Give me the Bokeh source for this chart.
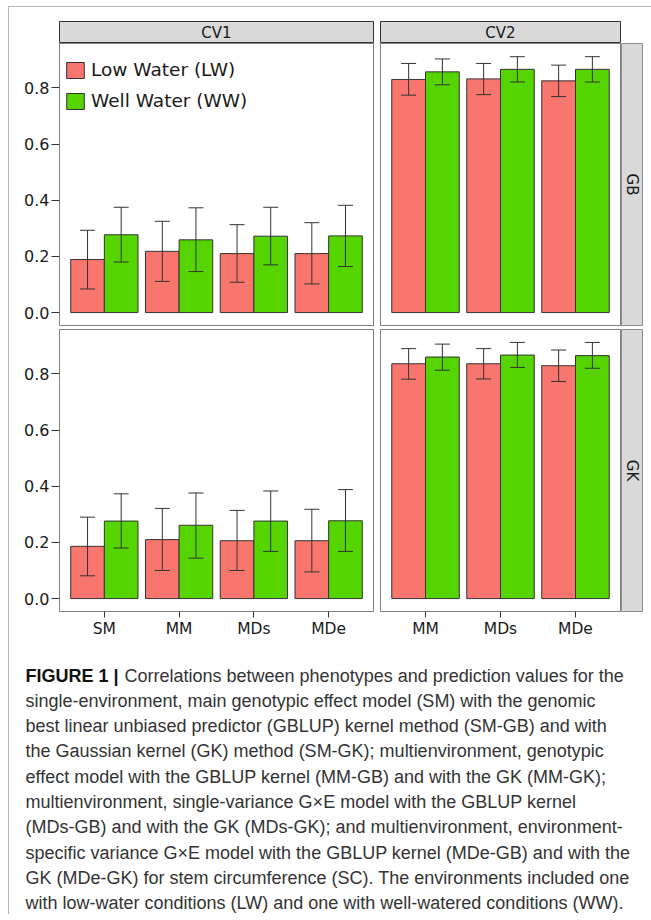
import math
from bokeh.plotting import figure
from bokeh.layouts import row, column, Spacer
from bokeh.models import (FactorRange, Range1d, ColumnDataSource, FixedTicker,
                          NumeralTickFormatter, Legend, LegendItem)
from bokeh.transform import dodge
from bokeh.core.properties import value
from bokeh.embed import file_html
from bokeh.resources import INLINE

# ---------------- data ----------------
cv1_models = ["SM", "MM", "MDs", "MDe"]
cv2_models = ["MM", "MDs", "MDe"]

# GB kernel, CV1
gb_cv1_lw = [0.189, 0.218, 0.210, 0.210]
gb_cv1_lw_lo = [0.084, 0.111, 0.108, 0.102]
gb_cv1_lw_hi = [0.293, 0.325, 0.313, 0.320]
gb_cv1_ww = [0.277, 0.259, 0.272, 0.273]
gb_cv1_ww_lo = [0.180, 0.146, 0.170, 0.164]
gb_cv1_ww_hi = [0.375, 0.373, 0.375, 0.382]
# GB kernel, CV2
gb_cv2_lw = [0.830, 0.832, 0.825]
gb_cv2_lw_lo = [0.774, 0.776, 0.769]
gb_cv2_lw_hi = [0.887, 0.887, 0.881]
gb_cv2_ww = [0.857, 0.866, 0.866]
gb_cv2_ww_lo = [0.811, 0.821, 0.821]
gb_cv2_ww_hi = [0.903, 0.911, 0.911]
# GK kernel, CV1
gk_cv1_lw = [0.186, 0.210, 0.206, 0.206]
gk_cv1_lw_lo = [0.081, 0.100, 0.100, 0.095]
gk_cv1_lw_hi = [0.290, 0.321, 0.314, 0.318]
gk_cv1_ww = [0.276, 0.261, 0.276, 0.277]
gk_cv1_ww_lo = [0.180, 0.144, 0.168, 0.168]
gk_cv1_ww_hi = [0.373, 0.376, 0.383, 0.388]
# GK kernel, CV2
gk_cv2_lw = [0.836, 0.836, 0.829]
gk_cv2_lw_lo = [0.781, 0.782, 0.773]
gk_cv2_lw_hi = [0.890, 0.890, 0.885]
gk_cv2_ww = [0.860, 0.867, 0.865]
gk_cv2_ww_lo = [0.813, 0.823, 0.820]
gk_cv2_ww_hi = [0.906, 0.912, 0.912]

y_ticks = [0.0, 0.2, 0.4, 0.6, 0.8]
series_labels = ["Low Water (LW)", "Well Water (WW)"]
col_labels = ["CV1", "CV2"]
row_labels = ["GB", "GK"]

caption_bold = "FIGURE 1 |"
caption_lines = [
    "Correlations between phenotypes and prediction values for the",
    "single-environment, main genotypic effect model (SM) with the genomic",
    "best linear unbiased predictor (GBLUP) kernel method (SM-GB) and with",
    "the Gaussian kernel (GK) method (SM-GK); multienvironment, genotypic",
    "effect model with the GBLUP kernel (MM-GB) and with the GK (MM-GK);",
    "multienvironment, single-variance G\u00d7E model with the GBLUP kernel",
    "(MDs-GB) and with the GK (MDs-GK); and multienvironment, environment-",
    "specific variance G\u00d7E model with the GBLUP kernel (MDe-GB) and with the",
    "GK (MDe-GK) for stem circumference (SC). The environments included one",
    "with low-water conditions (LW) and one with well-watered conditions (WW).",
]

# ---------------- style ----------------
LW_COLOR = "#F8766D"
WW_COLOR = "#55D400"
BAR_LINE = "#333333"
ERR_COLOR = "#333333"
PANEL_LINE = "#7f7f7f"
STRIP_FILL = "#D9D9D9"
TEXT_COLOR = "#1a1a1a"
AX_FONT = "DejaVu Sans"
Y0, Y1 = -0.046, 0.958
BW = 0.45   # single bar width
CAP = 0.1   # half cap width


def panel(models, lw, lw_lo, lw_hi, ww, ww_lo, ww_hi, width, height,
          left, right, top, bottom, yaxis, xaxis):
    p = figure(width=width, height=height,
               x_range=FactorRange(*models, range_padding=0.1,
                                   range_padding_units="absolute"),
               y_range=Range1d(Y0, Y1), output_backend="svg",
               toolbar_location=None, tools="",
               min_border_left=left, min_border_right=right,
               min_border_top=top, min_border_bottom=bottom,
               x_axis_location="below" if xaxis else None,
               y_axis_location="left" if yaxis else None,
               outline_line_color=PANEL_LINE, outline_line_width=1,
               background_fill_color="white", border_fill_color="white")
    p.grid.visible = False
    src = ColumnDataSource(dict(model=models, lw=lw, lw_lo=lw_lo, lw_hi=lw_hi,
                                ww=ww, ww_lo=ww_lo, ww_hi=ww_hi))
    bars = []
    for key, off, col in (("lw", -BW / 2, LW_COLOR), ("ww", BW / 2, WW_COLOR)):
        r = p.vbar(x=dodge("model", off, range=p.x_range), top=key, bottom=0,
                   width=BW, source=src, fill_color=col, line_color=BAR_LINE,
                   line_width=1)
        bars.append(r)
        p.segment(x0=dodge("model", off, range=p.x_range), y0=key + "_lo",
                  x1=dodge("model", off, range=p.x_range), y1=key + "_hi",
                  source=src, line_color=ERR_COLOR, line_width=1)
        for end in ("_lo", "_hi"):
            p.segment(x0=dodge("model", off - CAP, range=p.x_range), y0=key + end,
                      x1=dodge("model", off + CAP, range=p.x_range), y1=key + end,
                      source=src, line_color=ERR_COLOR, line_width=1)
    if yaxis:
        ax = p.yaxis[0]
        ax.ticker = FixedTicker(ticks=y_ticks)
        ax.formatter = NumeralTickFormatter(format="0.0")
        ax.axis_line_color = None
        ax.major_tick_in = 0
        ax.major_tick_out = 8
        ax.minor_tick_line_color = None
        ax.major_tick_line_color = "#333333"
        ax.major_label_standoff = 2
        ax.major_label_text_font = AX_FONT
        ax.major_label_text_font_size = "16px"
        ax.major_label_text_color = TEXT_COLOR
    if xaxis:
        ax = p.xaxis[0]
        ax.axis_line_color = None
        ax.major_tick_in = 0
        ax.major_tick_out = 6
        ax.minor_tick_line_color = None
        ax.major_tick_line_color = "#333333"
        ax.major_label_standoff = 2
        ax.major_label_text_font = AX_FONT
        ax.major_label_text_font_size = "15.5px"
        ax.major_label_text_color = TEXT_COLOR
    return p, bars


def strip(label, width, height, left, right, top, bottom, angle=0.0, line="#333333"):
    s = figure(width=width, height=height, x_range=Range1d(0, 1),
               y_range=Range1d(0, 1), output_backend="svg",
               toolbar_location=None, tools="",
               min_border_left=left, min_border_right=right,
               min_border_top=top, min_border_bottom=bottom,
               x_axis_location=None, y_axis_location=None,
               background_fill_color=STRIP_FILL, border_fill_color="white",
               outline_line_color=line, outline_line_width=1)
    s.grid.visible = False
    s.text(x=[0.5], y=[0.5], text=[label], angle=angle,
           text_align="center", text_baseline="middle",
           text_font=value(AX_FONT), text_font_size="15px",
           text_color=TEXT_COLOR)
    return s


# ---------------- panels ----------------
pA, barsA = panel(cv1_models, gb_cv1_lw, gb_cv1_lw_lo, gb_cv1_lw_hi,
                  gb_cv1_ww, gb_cv1_ww_lo, gb_cv1_ww_hi,
                  365, 283, 50, 1, 0, 1, True, False)
pB, _ = panel(cv2_models, gb_cv2_lw, gb_cv2_lw_lo, gb_cv2_lw_hi,
              gb_cv2_ww, gb_cv2_ww_lo, gb_cv2_ww_hi,
              242, 283, 1, 1, 0, 1, False, False)
pC, _ = panel(cv1_models, gk_cv1_lw, gk_cv1_lw_lo, gk_cv1_lw_hi,
              gk_cv1_ww, gk_cv1_ww_lo, gk_cv1_ww_hi,
              365, 323, 50, 1, 1, 40, True, True)
pD, _ = panel(cv2_models, gk_cv2_lw, gk_cv2_lw_lo, gk_cv2_lw_hi,
              gk_cv2_ww, gk_cv2_ww_lo, gk_cv2_ww_hi,
              242, 323, 1, 1, 1, 40, False, True)

# legend inside top-left panel
legend = Legend(items=[LegendItem(label=series_labels[0], renderers=[barsA[0]]),
                       LegendItem(label=series_labels[1], renderers=[barsA[1]])],
                location=(5, 214), orientation="vertical",
                glyph_width=22, glyph_height=20, label_height=20,
                label_standoff=5, spacing=10, padding=0, margin=0,
                border_line_color=None, background_fill_alpha=0,
                label_text_font=AX_FONT, label_text_font_size="18.5px",
                label_text_color=TEXT_COLOR)
pA.add_layout(legend)

# strips
sCV1 = strip(col_labels[0], 316, 23, 1, 1, 1, 0)
sCV2 = strip(col_labels[1], 242, 23, 1, 1, 1, 0)
sGB = strip(row_labels[0], 22, 283, 0, 1, 0, 1, angle=-math.pi / 2, line="#8c8c8c")
sGK = strip(row_labels[1], 22, 323, 0, 1, 1, 40, angle=-math.pi / 2, line="#8c8c8c")

# caption
CW, CH = 634, 266
cap = figure(width=CW, height=CH, x_range=Range1d(0, CW), y_range=Range1d(CH, 0),
             output_backend="svg", toolbar_location=None, tools="",
             min_border=0, x_axis_location=None, y_axis_location=None,
             outline_line_color=None, background_fill_color="white",
             border_fill_color="white")
cap.grid.visible = False
LINE_H = 25.3
base_y = [24 + LINE_H * i for i in range(len(caption_lines))]
x_start = [115] + [16] * (len(caption_lines) - 1)
cap.text(x=[16], y=[base_y[0]], text=[caption_bold], text_baseline="alphabetic",
         text_font=value("Liberation Sans"), text_font_style="bold",
         text_font_size="18px", text_color="#111111")
cap.text(x=x_start, y=base_y, text=caption_lines, text_baseline="alphabetic",
         text_font=value("Liberation Sans"), text_font_size="18px",
         text_color="#333333")

# ---------------- layout ----------------
strip_row = row(Spacer(width=49, height=23), sCV1, Spacer(width=5, height=23), sCV2)
row1 = row(pA, Spacer(width=5, height=283), pB, sGB)
row2 = row(pC, Spacer(width=5, height=323), pD, sGK)
inner = column(Spacer(width=634, height=13), strip_row, row1,
               Spacer(width=634, height=2), row2, cap)
framed = column(
    Spacer(width=643, height=1, styles={"background-color": "#b5b5b5"}),
    row(Spacer(width=1, height=907, styles={"background-color": "#b5b5b5"}), inner),
)
layout = column(Spacer(width=651, height=6), row(Spacer(width=8, height=908), framed))

open("out.html", "w").write(file_html(layout, INLINE))
